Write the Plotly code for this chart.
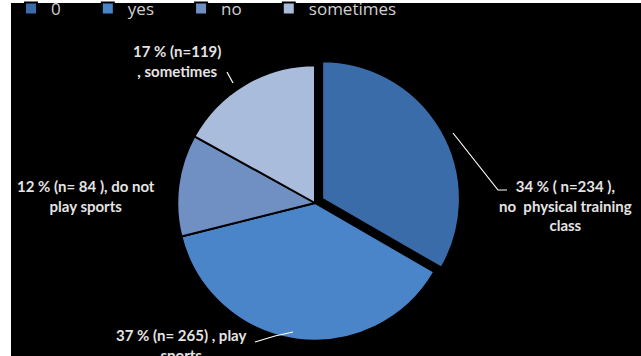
import plotly.graph_objects as go

# ---- data ----
categories = ["0", "yes", "no", "sometimes"]
counts = [234, 265, 84, 119]
percents = [34, 37, 12, 17]
descriptions = ["no physical training class", "play sports", "do not play sports", "sometimes"]
colors = ["#3A6CAA", "#4A85C9", "#7090C4", "#A9BCDB"]

W, H = 641, 356

def px(x):
    return x / W

def py(y):
    return 1 - y / H

legend_names = [c + "\u00a0" * 5 for c in categories]

fig = go.Figure()
fig.add_trace(go.Pie(
    labels=legend_names,
    values=counts,
    sort=False,
    direction="clockwise",
    rotation=0,
    pull=[0.06, 0, 0, 0],
    marker=dict(colors=colors, line=dict(color="#000000", width=2)),
    textinfo="none",
    hoverinfo="label+value+percent",
    domain=dict(x=[px(169), px(461)], y=[py(349), py(57)]),
))

# label texts built from data
lbl = {}
lbl["0"] = f"{percents[0]} % ( n={counts[0]} ),<br>no  physical training<br>class"
lbl["yes"] = f"{percents[1]} % (n= {counts[1]}) , play<br>sports"
lbl["no"] = f"{percents[2]} % (n= {counts[2]} ), do not<br>play sports"
lbl["sometimes"] = f"{percents[3]} % (n={counts[3]})<br>, sometimes"

font = dict(family="Lato, Open Sans, sans-serif", size=15, color="#E4E4E4")

def label(x, y, key):
    return dict(x=px(x), y=py(y), text="<b>" + lbl[key] + "</b>", showarrow=False,
                xref="paper", yref="paper", xanchor="center", yanchor="middle", font=font)

ann = [
    label(565, 205, "0"),
    label(181, 345, "yes"),
    label(86, 196, "no"),
    label(177, 61, "sometimes"),
]

def path(points):
    d = "M " + " L ".join(f"{px(x)} {py(y)}" for x, y in points)
    return dict(type="path", xref="paper", yref="paper", path=d,
                line=dict(color="#FFFFFF", width=1.2))

shapes = [
    dict(type="rect", xref="paper", yref="paper", x0=px(11), x1=1, y0=0, y1=py(3),
         fillcolor="#000000", line=dict(width=0), layer="below"),
    path([(453, 133), (498, 190), (507, 190)]),
    path([(255, 342), (275, 336), (293, 332)]),
    path([(227, 72), (233, 83)]),
]

fig.update_layout(
    width=W, height=H,
    margin=dict(l=0, r=0, t=0, b=0, autoexpand=False),
    paper_bgcolor="#FFFFFF",
    plot_bgcolor="#000000",
    showlegend=True,
    legend=dict(orientation="h", xref="container", yref="container",
                x=px(11), y=py(9), xanchor="left", yanchor="middle",
                font=dict(family="Open Sans, sans-serif", size=17, color="#D0D0D0"),
                bgcolor="rgba(0,0,0,0)", itemwidth=30),
    annotations=ann,
    shapes=shapes,
)

fig.write_html("out.html", config={"displayModeBar": False},
               post_script="document.body.style.margin='0px';")
